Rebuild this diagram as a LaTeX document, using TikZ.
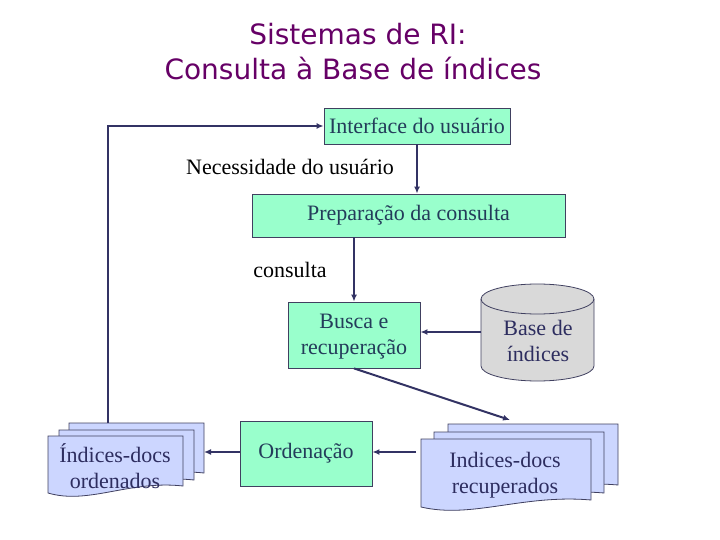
\documentclass[tikz,border=0pt]{standalone}
\usepackage{fontspec}
\setmainfont{Liberation Serif}
\newfontfamily\titlefont{DejaVu Sans}
\usetikzlibrary{arrows.meta,calc}
\definecolor{aquabox}{RGB}{153,255,204}
\definecolor{docblue}{RGB}{204,214,255}
\definecolor{cylgray}{RGB}{217,217,217}
\definecolor{linkblue}{RGB}{51,51,100}
\definecolor{edgegray}{RGB}{64,64,96}
\definecolor{boxtext}{RGB}{35,60,90}
\definecolor{doctext}{RGB}{45,45,95}
\definecolor{darkpurple}{RGB}{102,0,102}
% one sheet of a document stack: left, top, width, height
\newcommand{\docsheet}[4]{%
  \filldraw[sheet] (#1,#2) -- (#1+#3,#2) -- (#1+#3,#2+#4)
    .. controls (#1+0.6*#3,#2+#4-6) and (#1+0.3*#3,#2+#4+19) .. (#1,#2+#4+7) -- cycle;}
\tikzset{
  procbox/.style={draw=edgegray, line width=0.8pt, fill=aquabox, text=boxtext,
    align=center, inner sep=0pt, font=\fontsize{22}{26}\selectfont},
  sheet/.style={draw=edgegray, line width=0.8pt, fill=docblue},
  flow/.style={draw=linkblue, line width=2pt, -{Latex[length=7pt,width=6pt]}},
  label/.style={text=black, font=\fontsize{22}{26}\selectfont},
  titletext/.style={anchor=base, text=darkpurple, font=\titlefont\fontsize{28}{35}\selectfont},
}

\begin{document}
\begin{tikzpicture}[x=1pt,y=-1pt]
    \useasboundingbox (0,0) rectangle (720,540);
    % title
    \node[titletext] (title1) at (358,45) {Sistemas de RI:};
    \node[titletext] (title2) at (353,80) {Consulta à Base de índices};
    % process boxes
    \node[procbox, minimum width=186pt, minimum height=36pt] (interface) at (417,126) {Interface do usuário};
    \node[procbox, minimum width=313pt, minimum height=43pt] (prep) at (408.5,215.5) {Preparação da consulta};
    \node[procbox, minimum width=132pt, minimum height=66pt] (busca) at (354,335) {\strut Busca e\\recuperação};
    \node[procbox, minimum width=132pt, minimum height=65pt] (orden) at (306,453.5) {Ordenação};
    \node[label] (necessidade) at (290,167) {Necessidade do usuário};
    \node[label] (consulta) at (290,270) {consulta};
    % base de indices
    \def\cylL{481}
    \def\cylR{594}
    \filldraw[draw=edgegray, line width=0.8pt, fill=cylgray]
      (\cylL,299) -- (\cylL,366) arc[start angle=180, end angle=0, x radius=56.5, y radius=15]
      -- (\cylR,299) arc[start angle=0, end angle=-180, x radius=56.5, y radius=15] -- cycle;
    \draw[edgegray, line width=0.8pt] (\cylL,299) arc[start angle=180, end angle=0, x radius=56.5, y radius=15];
    \node[procbox, draw=none, fill=none, text=doctext] (base) at (538,341) {Base de\\índices};
    \coordinate (baseW) at (\cylL,332);
    % document stacks
    \docsheet{69}{423}{135}{50}
    \docsheet{59}{430}{135}{50}
    \docsheet{48}{436}{135}{50}
    \node[procbox, draw=none, fill=none, text=doctext] (ordenados) at (115,466) {Índices-docs\\ordenados};
    \docsheet{448}{424}{170}{61}
    \docsheet{434}{432}{170}{61}
    \docsheet{421}{439}{170}{61}
    \node[procbox, draw=none, fill=none, text=doctext] (recuperados) at (505,475) {Indices-docs\\recuperados};
    \coordinate (ordTop) at (108,423);
    \coordinate (ordE) at (204,452);
    \coordinate (recTop) at (510,420);
    \coordinate (recW) at (416,452);
    % connectors
    \draw[flow] (interface.south) -- (interface.south |- prep.north);
    \draw[flow] (busca.north |- prep.south) -- (busca.north);
    \draw[flow] (baseW) -- (baseW -| busca.east);
    \draw[flow] (busca.south) -- (recTop);
    \draw[flow] (recW) -- (recW -| orden.east);
    \draw[flow] (orden.west |- ordE) -- (ordE);
    \draw[flow] (ordTop) |- (interface.west);
\end{tikzpicture}
\end{document}
